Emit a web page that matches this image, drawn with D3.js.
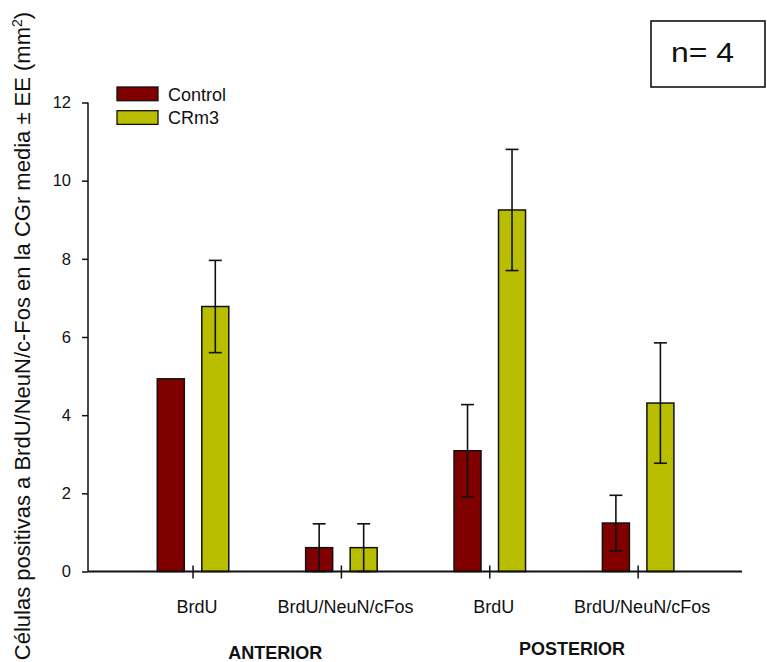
<!DOCTYPE html>
<html>
<head>
<meta charset="utf-8">
<script src="https://cdn.jsdelivr.net/npm/d3@7"></script>
<style>
  html, body { margin: 0; padding: 0; background: #fff; }
  svg { display: block; font-family: "Liberation Sans", Arial, sans-serif; }
</style>
</head>
<body>
<svg id="chart" width="767" height="662"></svg>
<script>
// ---- data ----
const categories = ["BrdU", "BrdU/NeuN/cFos", "BrdU", "BrdU/NeuN/cFos"];
const groups = ["ANTERIOR", "POSTERIOR"];
const seriesNames = ["Control", "CRm3"];
const controlValues = [4.93, 0.61, 3.09, 1.24];
const controlErrors = [0, 0.61, 1.18, 0.71];
const crm3Values = [6.78, 0.61, 9.25, 4.31];
const crm3Errors = [1.18, 0.61, 1.55, 1.54];
const yTicks = [0, 2, 4, 6, 8, 10, 12];
const nLabel = "n= 4";

// ---- styling ----
const colors = ["#800000", "#b9bf00"];
const svg = d3.select("#chart");

const x = d3.scaleLinear().domain([-0.708, 3.70]).range([88, 742]);
const y = d3.scaleLinear().domain([0, 12]).range([571.5, 102.5]);
const barOffset = 0.15, barW = x(0.182) - x(0);

const series = [
  { name: seriesNames[0], values: controlValues, errors: controlErrors, color: colors[0], off: -barOffset },
  { name: seriesNames[1], values: crm3Values, errors: crm3Errors, color: colors[1], off: barOffset }
];

// bars
series.forEach(s => {
  const g = svg.append("g");
  g.selectAll("rect").data(s.values).join("rect")
    .attr("x", (d, i) => x(i + s.off) - barW / 2)
    .attr("y", d => y(d))
    .attr("width", barW)
    .attr("height", d => y(0) - y(d))
    .attr("fill", s.color)
    .attr("stroke", "#111")
    .attr("stroke-width", 1.5);
});

// error bars
const capHalf = 6.5;
series.forEach(s => {
  const g = svg.append("g").attr("stroke", "#111").attr("stroke-width", 1.6).attr("fill", "none");
  s.values.forEach((v, i) => {
    const e = s.errors[i];
    if (!e) return;
    const cx = x(i + s.off);
    g.append("line").attr("x1", cx).attr("x2", cx).attr("y1", y(v + e)).attr("y2", y(Math.max(0, v - e)));
    g.append("line").attr("x1", cx - capHalf).attr("x2", cx + capHalf).attr("y1", y(v + e)).attr("y2", y(v + e));
    g.append("line").attr("x1", cx - capHalf).attr("x2", cx + capHalf).attr("y1", y(Math.max(0, v - e))).attr("y2", y(Math.max(0, v - e)));
  });
});

// y axis
const yAxis = d3.axisLeft(y).tickValues(yTicks).tickSize(6).tickPadding(11).tickFormat(d3.format("d"));
const yg = svg.append("g").attr("transform", `translate(${x(-0.708)},0)`).call(yAxis);
yg.select(".domain").attr("stroke", "#111").attr("stroke-width", 1.5).attr("d", `M0,${y(12)}V${y(0)}`);
yg.selectAll(".tick line").attr("stroke", "#111").attr("stroke-width", 1.5);
yg.selectAll(".tick text").attr("font-size", 16.5).attr("fill", "#111")
  .attr("font-family", "Liberation Sans, Arial, sans-serif");

// x axis
const xg = svg.append("g");
xg.append("line").attr("x1", x(-0.708)).attr("x2", x(3.70)).attr("y1", y(0)).attr("y2", y(0))
  .attr("stroke", "#111").attr("stroke-width", 2.2);
xg.selectAll("line.tk").data(categories).join("line").attr("class", "tk")
  .attr("x1", (d, i) => x(i)).attr("x2", (d, i) => x(i))
  .attr("y1", y(0) - 6).attr("y2", y(0) + 7)
  .attr("stroke", "#111").attr("stroke-width", 1.5);
xg.selectAll("text.cat").data(categories).join("text").attr("class", "cat")
  .attr("x", (d, i) => x(i) + 4).attr("y", 613)
  .attr("text-anchor", "middle").attr("font-size", 18).attr("fill", "#111")
  .text(d => d);

// group labels
const groupBaselines = [658.5, 655];
svg.selectAll("text.grp").data(groups).join("text").attr("class", "grp")
  .attr("x", (d, i) => x(i * 2 + 0.5) + 8)
  .attr("y", (d, i) => groupBaselines[i])
  .attr("text-anchor", "middle").attr("font-size", 18).attr("font-weight", "bold").attr("fill", "#111")
  .text(d => d);

// y title
const yt = svg.append("text")
  .attr("transform", "translate(30,336) rotate(-90)")
  .attr("text-anchor", "middle").attr("font-size", 22).attr("fill", "#111");
yt.append("tspan").text("Células positivas a BrdU/NeuN/c-Fos en la CGr media ± EE (mm");
yt.append("tspan").attr("font-size", 14).attr("dy", -8).text("2");
yt.append("tspan").attr("dy", 8).text(")");

// legend
const lg = svg.append("g");
series.forEach((s, i) => {
  lg.append("rect").attr("x", 117).attr("y", 87 + i * 23.7).attr("width", 41).attr("height", 13.7)
    .attr("fill", s.color).attr("stroke", "#111").attr("stroke-width", 1.3);
  lg.append("text").attr("x", 168).attr("y", 100.7 + i * 23.5)
    .attr("font-size", 18).attr("fill", "#111").text(s.name);
});

// n box
svg.append("rect").attr("x", 651).attr("y", 21).attr("width", 114).attr("height", 66)
  .attr("fill", "none").attr("stroke", "#111").attr("stroke-width", 1.6);
svg.append("text").attr("x", 671).attr("y", 61.7).attr("font-size", 27).attr("fill", "#111")
  .attr("textLength", 63).attr("lengthAdjust", "spacingAndGlyphs").text(nLabel);
</script>
</body>
</html>
